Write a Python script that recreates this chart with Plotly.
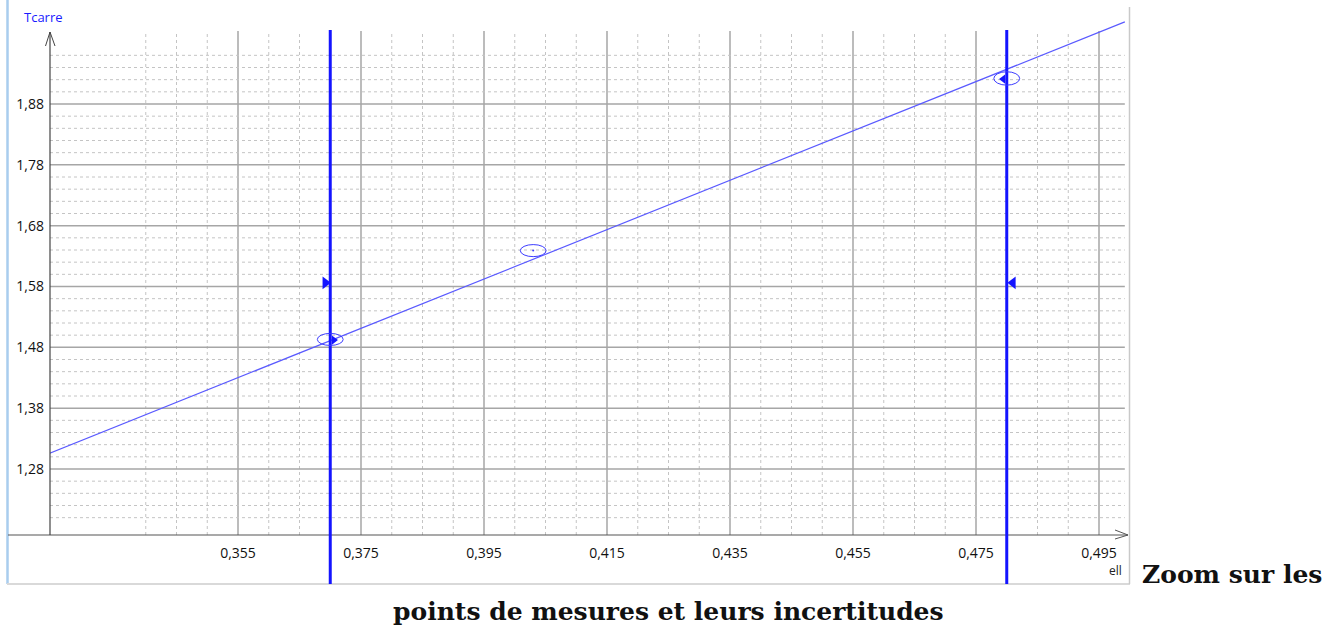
import numpy as np
import plotly.graph_objects as go

# ---------------- data ----------------
x_tick_vals = [0.355, 0.375, 0.395, 0.415, 0.435, 0.455, 0.475, 0.495]
x_tick_text = ["0,355", "0,375", "0,395", "0,415", "0,435", "0,455", "0,475", "0,495"]
y_tick_vals = [1.28, 1.38, 1.48, 1.58, 1.68, 1.78, 1.88]
y_tick_text = ["1,28", "1,38", "1,48", "1,58", "1,68", "1,78", "1,88"]

ell = [0.370, 0.403, 0.480]          # measured lengths
tcarre = [1.493, 1.639, 1.922]       # measured T^2
d_ell = [0.0021, 0.0021, 0.0021]     # uncertainty on ell
d_tcarre = [0.0099, 0.0099, 0.011]   # uncertainty on T^2

fit_x = [0.3244, 0.4992]             # regression line ends
fit_y = [1.306, 2.015]

cursor_x = [0.370, 0.480]            # vertical cursors
cursor_mark_x = [0.3692, 0.4810]
cursor_mark_y = [1.586, 1.586]
cursor_symbols = ["triangle-right", "triangle-left"]
point_mark_x = [0.3706, 0.4794]
point_mark_y = [1.492, 1.921]

# ---------------- geometry helpers (pixels -> paper) ----------------
W, H = 1344, 628
def px(x):
    return x / W
def py(y):
    return 1 - y / H

X_RANGE = [0.324431, 0.499715]
Y_RANGE = [1.171506, 2.018083]

fig = go.Figure()

shapes = []
# grid
minor_v = [v for v in np.round(np.arange(0.340, 0.4951, 0.005), 3) if round((v - 0.355) / 0.02, 6) % 1 != 0]
for v in minor_v:
    shapes.append(dict(type="line", xref="x", yref="y", x0=v, x1=v, y0=Y_RANGE[0], y1=2.0,
                       line=dict(color="#c4c4c4", width=1, dash="3px,3px"), layer="below"))
for v in x_tick_vals:
    shapes.append(dict(type="line", xref="x", yref="y", x0=v, x1=v, y0=Y_RANGE[0], y1=2.0,
                       line=dict(color="#a6a6a6", width=1.5), layer="below"))
minor_h = [v for v in np.round(np.arange(1.20, 1.961, 0.02), 2) if round((v - 1.28) / 0.1, 6) % 1 != 0]
for v in minor_h:
    shapes.append(dict(type="line", xref="x", yref="y", x0=X_RANGE[0], x1=0.4992, y0=v, y1=v,
                       line=dict(color="#c4c4c4", width=1, dash="3px,3px"), layer="below"))
for v in y_tick_vals:
    shapes.append(dict(type="line", xref="x", yref="y", x0=X_RANGE[0], x1=0.4992, y0=v, y1=v,
                       line=dict(color="#a6a6a6", width=1.5), layer="below"))

# frame
shapes.append(dict(type="line", xref="paper", yref="paper", x0=px(7.5), x1=px(7.5), y0=py(0), y1=py(584),
                   line=dict(color="#a9cdee", width=2.5)))
shapes.append(dict(type="line", xref="paper", yref="paper", x0=px(7), x1=px(1130), y0=py(584), y1=py(584),
                   line=dict(color="#d9d9d9", width=2)))
shapes.append(dict(type="line", xref="paper", yref="paper", x0=px(1129.5), x1=px(1129.5), y0=py(7), y1=py(584),
                   line=dict(color="#c9c9c9", width=1.5)))

# axes
shapes.append(dict(type="line", xref="paper", yref="paper", x0=px(8), x1=px(1128), y0=py(535), y1=py(535),
                   line=dict(color="#555555", width=1.2)))
shapes.append(dict(type="line", xref="paper", yref="paper", x0=px(50), x1=px(50), y0=py(535), y1=py(32),
                   line=dict(color="#444444", width=1.2)))
# arrows
shapes.append(dict(type="path", xref="paper", yref="paper",
                   path=f"M {px(45.5)} {py(46)} L {px(50)} {py(32)} L {px(55)} {py(46)}",
                   line=dict(color="#444444", width=1)))
shapes.append(dict(type="path", xref="paper", yref="paper",
                   path=f"M {px(1115)} {py(530)} L {px(1128)} {py(535)} L {px(1115)} {py(539)}",
                   line=dict(color="#555555", width=1)))

# vertical cursors
for cx in cursor_x:
    shapes.append(dict(type="line", xref="x", yref="paper", x0=cx, x1=cx, y0=py(584), y1=py(30),
                       line=dict(color="#1414ff", width=3)))

# uncertainty ellipses
for xv, yv, dx, dy in zip(ell, tcarre, d_ell, d_tcarre):
    shapes.append(dict(type="circle", xref="x", yref="y", x0=xv - dx, x1=xv + dx, y0=yv - dy, y1=yv + dy,
                       line=dict(color="#3c3cff", width=1)))

# fit line
fig.add_trace(go.Scatter(x=fit_x, y=fit_y, mode="lines", line=dict(color="#5a5aff", width=1.2),
                         hoverinfo="skip", cliponaxis=False))
# measurement points (centres)
fig.add_trace(go.Scatter(x=ell, y=tcarre, mode="markers", marker=dict(color="#3c3cff", size=2)))
# cursor markers
fig.add_trace(go.Scatter(x=cursor_mark_x, y=cursor_mark_y, mode="markers",
                         marker=dict(symbol=cursor_symbols, color="#1414ff", size=11)))
fig.add_trace(go.Scatter(x=point_mark_x, y=point_mark_y, mode="markers",
                         marker=dict(symbol=cursor_symbols, color="#1414ff", size=8)))

annotations = [
    dict(text="Tcarre", x=px(22), y=py(17), xref="paper", yref="paper", xanchor="left", yanchor="middle",
         showarrow=False, font=dict(family="Open Sans", size=13, color="#1a1aff")),
    dict(text="ell", x=px(1124), y=py(570), xref="paper", yref="paper", xanchor="right", yanchor="middle",
         showarrow=False, font=dict(family="Open Sans", size=12, color="#222222")),
    dict(text="<b>Zoom sur les</b>", x=px(1140), y=py(574), xref="paper", yref="paper", xanchor="left",
         yanchor="middle", showarrow=False, font=dict(family="DejaVu Serif", size=25, color="#111111")),
    dict(text="<b>points de mesures et leurs incertitudes</b>", x=px(668), y=py(611), xref="paper",
         yref="paper", xanchor="center", yanchor="middle", showarrow=False,
         font=dict(family="DejaVu Serif", size=25, color="#111111")),
]

fig.update_layout(
    width=W, height=H, autosize=False,
    margin=dict(l=0, r=0, t=0, b=0, pad=0),
    paper_bgcolor="white", plot_bgcolor="rgba(0,0,0,0)",
    showlegend=False,
    shapes=shapes,
    annotations=annotations,
    xaxis=dict(domain=[px(50), px(1128)], range=X_RANGE, tickvals=x_tick_vals, ticktext=x_tick_text,
               showgrid=False, zeroline=False, showline=False, ticks="", ticklabelstandoff=8,
               tickfont=dict(family="Open Sans", size=14, color="#111111"), fixedrange=True),
    yaxis=dict(domain=[py(535), py(20)], range=Y_RANGE, tickvals=y_tick_vals, ticktext=y_tick_text,
               showgrid=False, zeroline=False, showline=False, ticks="", ticklabelstandoff=5,
               tickfont=dict(family="Open Sans", size=14, color="#111111"), fixedrange=True),
)

fig.write_html("out.html", config={"displayModeBar": False},
               post_script="document.body.style.margin='0';document.body.style.overflow='hidden';")
